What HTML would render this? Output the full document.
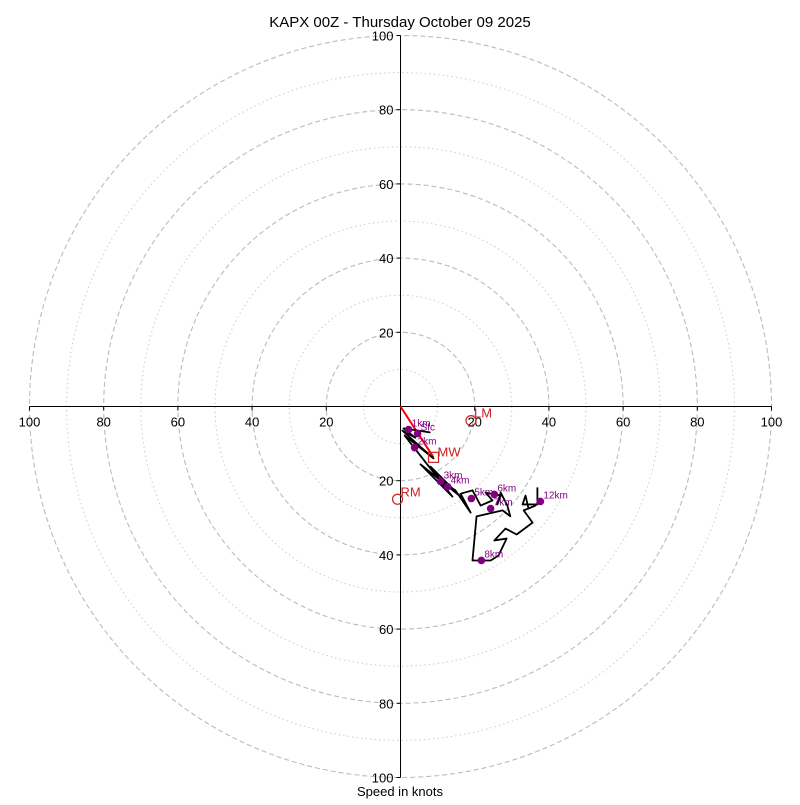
<!DOCTYPE html>
<html><head><meta charset="utf-8"><style>
body{margin:0;background:#fff;}
svg text{font-family:"Liberation Sans","DejaVu Sans",sans-serif;}
</style></head><body>
<svg id="c" width="800" height="800" xmlns="http://www.w3.org/2000/svg">
<rect width="800" height="800" fill="#fff"/>
<text x="400" y="27" font-size="15" text-anchor="middle">KAPX 00Z - Thursday October 09 2025</text>
<text x="400" y="796" font-size="13" text-anchor="middle">Speed in knots</text>
<g id="rings"></g><g id="axes"></g><g id="plot"></g>
</svg>
<script>
const ringDashed=[20,40,60,80,100];
const ringDotted=[10,30,50,70,90];
const tickLabels=[20,40,60,80,100];
const pathU=[8.1,0.8,4.0,0.5,8.9,1.1,14.0,5.4,16.2,8.1,10.8,14.8,18.9,16.2,19.4,21.6,24.8,22.9,27.0,26.1,27.0,28.8,29.6,27.5,20.5,19.4,24.3,26.4,28.6,25.3,28.3,31.3,35.6,33.2,36.4,34.5,33.7,32.9,36.9,36.9];
const pathV=[-7.0,-5.9,-8.4,-6.5,-14.0,-7.8,-24.3,-15.6,-24.3,-16.2,-19.9,-22.6,-28.6,-23.5,-22.6,-26.7,-25.3,-23.2,-24.0,-26.4,-23.2,-26.7,-29.6,-28.0,-29.6,-41.5,-41.5,-40.2,-35.6,-36.1,-32.9,-34.5,-31.3,-28.0,-26.7,-27.5,-24.0,-26.4,-26.4,-21.8];
const markerLabels=["Sfc","1km","2km","3km","4km","5km","6km","7km","8km","12km"];
const markerU=[4.6,2.2,3.8,10.8,12.7,19.1,25.3,24.3,21.8,37.7];
const markerV=[-7.3,-6.2,-11.1,-20.2,-21.6,-24.8,-23.7,-27.5,-41.5,-25.6];
const lmU=19, lmV=-3.8, rmU=-0.8, rmV=-25, mwU=8.9, mwV=-13.7;

const NS="http://www.w3.org/2000/svg";
const cx=400.5, cy=406.5, k=3.71;
const X=u=>cx+u*k, Y=v=>cy-v*k;
function mk(t,a,p){const e=document.createElementNS(NS,t);for(const n in a)e.setAttribute(n,a[n]);p.appendChild(e);return e;}
const rings=document.getElementById('rings'),axes=document.getElementById('axes'),plot=document.getElementById('plot');
ringDashed.forEach(r=>{const e=mk('circle',{cx:cx,cy:cy,r:r*k,fill:'none',stroke:'#bbb','stroke-width':1.1,'stroke-dasharray':'5,3'},rings);

});
ringDotted.forEach(r=>{const e=mk('circle',{cx:cx,cy:cy,r:r*k,fill:'none',stroke:'#ccc','stroke-width':1,'stroke-dasharray':'1.5,3'},rings);

});
let a=mk('line',{x1:X(-100),y1:cy,x2:X(100),y2:cy,stroke:'#000','stroke-width':1},axes);


a=mk('line',{x1:cx,y1:Y(100),x2:cx,y2:Y(-100),stroke:'#000','stroke-width':1},axes);


tickLabels.forEach(t=>{[t,-t].forEach(s=>{
 mk('line',{x1:X(s),y1:cy,x2:X(s),y2:cy+4,stroke:'#000'},axes);
 let tx=mk('text',{x:X(s),y:cy+20,'font-size':13,'text-anchor':'middle'},axes);tx.textContent=t;
 
 
 mk('line',{x1:cx-4,y1:Y(s),x2:cx,y2:Y(s),stroke:'#000'},axes);
 let ty=mk('text',{x:cx-7,y:Y(s)+5,'font-size':13,'text-anchor':'end'},axes);ty.textContent=t;
 
 
});});
let l=mk('line',{x1:cx,y1:cy,x2:X(mwU),y2:Y(mwV),stroke:'red','stroke-width':2},plot);


let pts=pathU.map((u,i)=>X(u)+','+Y(pathV[i])).join(' ');
let pl=mk('polyline',{points:pts,fill:'none',stroke:'#000','stroke-width':1.8,'stroke-linejoin':'round'},plot);


markerU.forEach((u,i)=>{
 let c=mk('circle',{cx:X(u),cy:Y(markerV[i]),r:3.8,fill:'purple'},plot);
 
 
 let t=mk('text',{x:X(u)+3,y:Y(markerV[i])-3,'font-size':10,fill:'purple'},plot);t.textContent=markerLabels[i];
 
 
});
let c=mk('circle',{cx:X(lmU),cy:Y(lmV),r:5,fill:'none',stroke:'#c22','stroke-width':1.2},plot);


let t=mk('text',{x:X(lmU)+3,y:Y(lmV)-3,'font-size':13,fill:'#c22'},plot);t.textContent='LM';


c=mk('circle',{cx:X(rmU),cy:Y(rmV),r:5,fill:'none',stroke:'#c22','stroke-width':1.2},plot);


t=mk('text',{x:X(rmU)+3,y:Y(rmV)-3,'font-size':13,fill:'#c22'},plot);t.textContent='RM';


let r=mk('rect',{x:X(mwU)-5,y:Y(mwV)-5,width:10,height:10,fill:'none',stroke:'#c22','stroke-width':1.2},plot);


t=mk('text',{x:X(mwU)+4,y:Y(mwV)-1,'font-size':13,fill:'#c22'},plot);t.textContent='MW';


</script>
</body></html>
